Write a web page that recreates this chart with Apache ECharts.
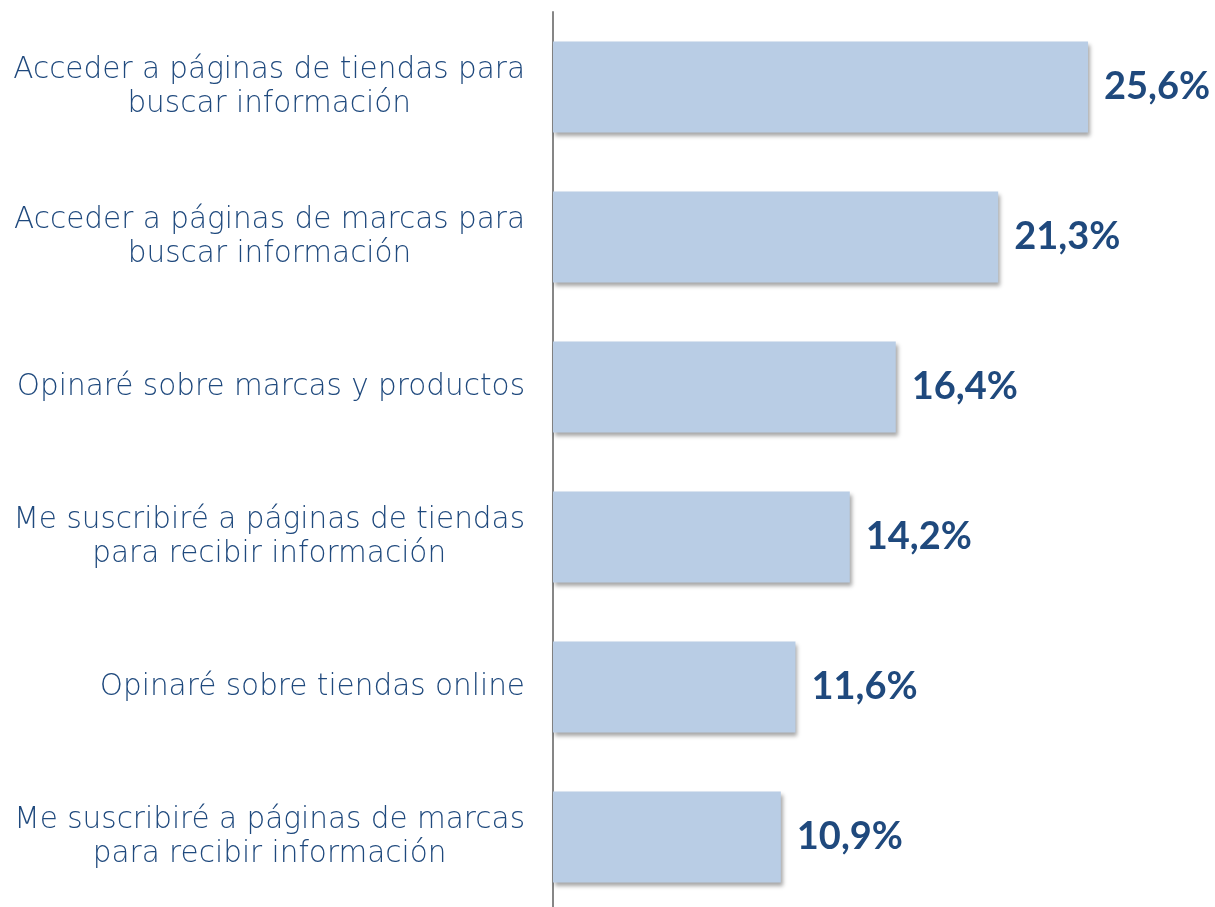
<!DOCTYPE html>
<html>
<head>
<meta charset="utf-8">
<script src="https://cdn.jsdelivr.net/npm/echarts@6/dist/echarts.min.js"></script>
<style>
html,body{margin:0;padding:0;background:#fff;}
#c{width:1215px;height:907px;}
</style>
</head>
<body>
<div id="c"></div>
<script>
const categories = [
  "Acceder a páginas de tiendas para\nbuscar información",
  "Acceder a páginas de marcas para\nbuscar información",
  "Opinaré sobre marcas y productos",
  "Me suscribiré a páginas de tiendas\npara recibir información",
  "Opinaré sobre tiendas online",
  "Me suscribiré a páginas de marcas\npara recibir información"
];
const values = [25.6, 21.3, 16.4, 14.2, 11.6, 10.9];

const chart = echarts.init(document.getElementById('c'), null, {renderer: 'canvas'});
chart.setOption({
  animation: false,
  backgroundColor: '#ffffff',
  grid: {left: 553, top: 12, width: 627, height: 900, containLabel: false, outerBoundsMode: 'none'},
  xAxis: {
    type: 'value', min: 0, max: 30,
    show: false
  },
  yAxis: {
    type: 'category',
    inverse: true,
    data: categories,
    axisLine: {show: true, lineStyle: {color: '#868686', width: 2}},
    axisTick: {show: false},
    splitLine: {show: false},
    axisLabel: {
      margin: 28,
      align: 'right',
      formatter: function (v) {
        return v.split('\n').map(function (l) { return '{c|' + l + '}'; }).join('\n');
      },
      rich: {
        c: {
          align: 'center',
          fontFamily: 'DejaVu Sans',
          fontWeight: 200,
          fontSize: 29.5,
          lineHeight: 34,
          color: '#1F497D'
        }
      }
    }
  },
  series: [{
    type: 'bar',
    data: values,
    barWidth: 91,
    itemStyle: {
      color: '#B9CDE5',
      shadowColor: 'rgba(0,0,0,0.35)',
      shadowBlur: 4,
      shadowOffsetX: 2,
      shadowOffsetY: 3
    },
    label: {
      show: true,
      position: 'right',
      distance: 16,
      formatter: function (p) { return p.value.toFixed(1).replace('.', ',') + '%'; },
      fontFamily: 'Lato',
      fontWeight: 'bold',
      fontSize: 38,
      color: '#1F497D'
    }
  }]
});
</script>
</body>
</html>
